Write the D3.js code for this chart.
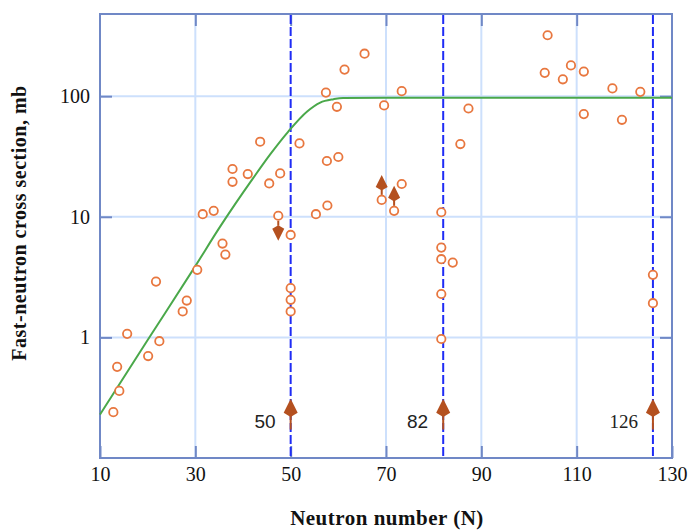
<!DOCTYPE html>
<html>
<head>
<meta charset="utf-8">
<script src="https://d3js.org/d3.v7.min.js"></script>
<style>
    body {margin: 0; background: #fff;}
    .tick text {font-family: "Liberation Serif", "DejaVu Serif", serif; font-size: 20px; fill: #111;}
    .title {font-family: "Liberation Serif", serif; font-weight: bold; fill: #111;}
</style>
</head>
<body>
<svg width="690" height="531"></svg>
<script>
    // measured points: neutron number and fast-neutron cross section (mb)
    const neutronN = [12.8, 14.05, 13.6, 15.7, 20.1, 22.45, 21.75, 27.35, 28.2, 30.4, 35.7, 36.3,
        31.55, 33.85, 37.8, 37.8, 41, 43.6, 45.5, 47.8, 47.4, 50, 51.85, 55.3, 57.7, 57.6, 60,
        57.4, 59.7, 61.3, 65.5, 69.6, 73.3, 69.1, 71.7, 73.3, 81.6, 87.3, 85.6,
        103.9, 103.3, 107.1, 108.8, 111.5, 111.5, 117.5, 119.5, 123.35,
        50, 50, 50, 81.6, 81.6, 84, 81.6, 81.6, 126, 126];
    const crossSection = [0.24, 0.36, 0.57, 1.07, 0.70, 0.93, 2.9, 1.64, 2.02, 3.63, 6.0, 4.86,
        10.5, 11.2, 24.9, 19.5, 22.6, 41.9, 18.9, 22.9, 10.2, 7.07, 40.6, 10.5, 12.4, 29, 31.3,
        107, 81.6, 166, 225, 83.8, 110, 13.8, 11.2, 18.7, 10.9, 79, 40.1,
        320, 156, 138, 180, 160, 71, 116, 63.7, 108.6,
        2.56, 2.05, 1.64, 5.55, 4.45, 4.17, 2.29, 0.97, 3.3, 1.92];

    // trend curve
    const curveN = [10, 20, 30, 35.2, 42.2, 45.7, 49.5, 53.4, 56.2, 59, 61, 70, 90, 110, 130];
    const curveSigma = [0.229, 0.95, 3.9, 8.28, 21.1, 32.9, 50.9, 74.3, 88.5, 94.4, 96.6, 97, 97, 97, 97];

    // limit arrows on single points
    const limitN = [47.4, 69.1, 71.7];
    const limitSigma = [10.2, 13.8, 11.2];
    const limitDir = ["down", "up", "up"];

    // magic numbers
    const magicN = [50, 82, 126];
    const magicLabels = ["50", "82", "126"];
    const magicFont = ["Liberation Sans", "Liberation Sans", "Liberation Serif"];
    const magicArrowFrom = 0.172, magicArrowTo = 0.31;

    const xTicks = [10, 30, 50, 70, 90, 110, 130];
    const xGrid = [30, 70, 90, 110];
    const yTicks = [1, 10, 100];

    const svg = d3.select("svg");
    const plotLeft = 100, plotRight = 672, plotTop = 14, plotBottom = 458;

    const x = d3.scaleLinear().domain([10, 130]).range([plotLeft, plotRight]);
    const y = d3.scaleLog().domain([0.1, 480]).range([plotBottom, plotTop]);

    const frameColor = "#7088c6";
    const gridColor = "#cde0fc";
    const orange = "#e8773f";
    const brown = "#b4501f";

    // grid
    svg.append("g").selectAll("line").data(xGrid).enter().append("line")
        .attr("x1", d => x(d)).attr("x2", d => x(d))
        .attr("y1", plotTop).attr("y2", plotBottom)
        .attr("stroke", gridColor).attr("stroke-width", 2);
    svg.append("g").selectAll("line").data(yTicks).enter().append("line")
        .attr("x1", plotLeft).attr("x2", plotRight)
        .attr("y1", d => y(d)).attr("y2", d => y(d))
        .attr("stroke", gridColor).attr("stroke-width", 2);

    // axes with inward ticks
    svg.append("g").attr("transform", `translate(0,${plotBottom})`)
        .call(d3.axisBottom(x).tickValues(xTicks).tickSize(-12).tickPadding(9));
    svg.append("g").attr("transform", `translate(0,${plotTop})`)
        .call(d3.axisTop(x).tickValues(xTicks.slice(1, -1)).tickSize(-12).tickFormat(""));
    svg.append("g").attr("transform", `translate(${plotLeft},0)`)
        .call(d3.axisLeft(y).tickValues(yTicks).tickFormat(d3.format("d")).tickSize(-12).tickPadding(10));
    svg.append("g").attr("transform", `translate(${plotRight},0)`)
        .call(d3.axisRight(y).tickValues(yTicks).tickSize(-12).tickFormat(""));
    svg.selectAll(".domain").remove();
    svg.selectAll(".tick line").attr("stroke", frameColor).attr("stroke-width", 2);

    // magic number lines
    svg.append("g").selectAll("line").data(magicN).enter().append("line")
        .attr("x1", d => x(d)).attr("x2", d => x(d))
        .attr("y1", plotTop + 1).attr("y2", plotBottom - 1)
        .attr("stroke", "#1f2cf5").attr("stroke-width", 2)
        .attr("stroke-dasharray", "9,3");

    // frame
    svg.append("rect")
        .attr("x", plotLeft).attr("y", plotTop)
        .attr("width", plotRight - plotLeft).attr("height", plotBottom - plotTop)
        .attr("fill", "none").attr("stroke", frameColor).attr("stroke-width", 2);

    // trend curve
    const line = d3.line()
        .x(d => x(d[0])).y(d => y(d[1]))
        .curve(d3.curveMonotoneX);
    svg.append("path")
        .datum(curveN.map((n, i) => [n, curveSigma[i]]))
        .attr("d", line)
        .attr("fill", "none").attr("stroke", "#4aa84a").attr("stroke-width", 2);

    // arrow helper: stem + barbed head
    function arrow(g, cx, y0, y1, half, headLen) {
        const dir = y1 < y0 ? -1 : 1;
        const base = y1 - dir * headLen;
        g.append("line").attr("x1", cx).attr("x2", cx)
            .attr("y1", y0).attr("y2", base - dir * 3)
            .attr("stroke", brown).attr("stroke-width", 2);
        g.append("path")
            .attr("d", `M${cx},${y1} L${cx + half},${base} L${cx},${base - dir * headLen * 0.3} L${cx - half},${base} Z`)
            .attr("fill", brown);
    }

    const arrows = svg.append("g");
    limitN.forEach((n, i) => {
        const cy = y(limitSigma[i]);
        if (limitDir[i] === "up") arrow(arrows, x(n), cy - 5, cy - 25, 6, 12);
        else arrow(arrows, x(n), cy + 5, cy + 25, 6, 12);
    });

    magicN.forEach((n, i) => {
        arrow(arrows, x(n), y(magicArrowFrom), y(magicArrowTo), 7, 14);
        svg.append("text")
            .attr("x", x(n) - 15).attr("y", 428)
            .attr("text-anchor", "end")
            .style("font-family", magicFont[i]).style("font-size", "19px")
            .attr("fill", "#222")
            .text(magicLabels[i]);
    });

    // data points
    svg.append("g").selectAll("circle")
        .data(neutronN.map((n, i) => [n, crossSection[i]]))
        .enter().append("circle")
        .attr("cx", d => x(d[0])).attr("cy", d => y(d[1]))
        .attr("r", 4.2)
        .attr("fill", "#fff").attr("stroke", orange).attr("stroke-width", 1.8);

    // titles
    svg.append("text").attr("class", "title")
        .attr("x", (plotLeft + plotRight) / 2 + 1).attr("y", 525)
        .attr("text-anchor", "middle")
        .style("font-size", "21px").style("letter-spacing", "0.5px")
        .text("Neutron number (N)");
    svg.append("text").attr("class", "title")
        .attr("transform", "translate(26,223) rotate(-90)")
        .attr("text-anchor", "middle")
        .style("font-size", "20px").style("letter-spacing", "0.5px")
        .text("Fast-neutron cross section, mb");
</script>
</body>
</html>
